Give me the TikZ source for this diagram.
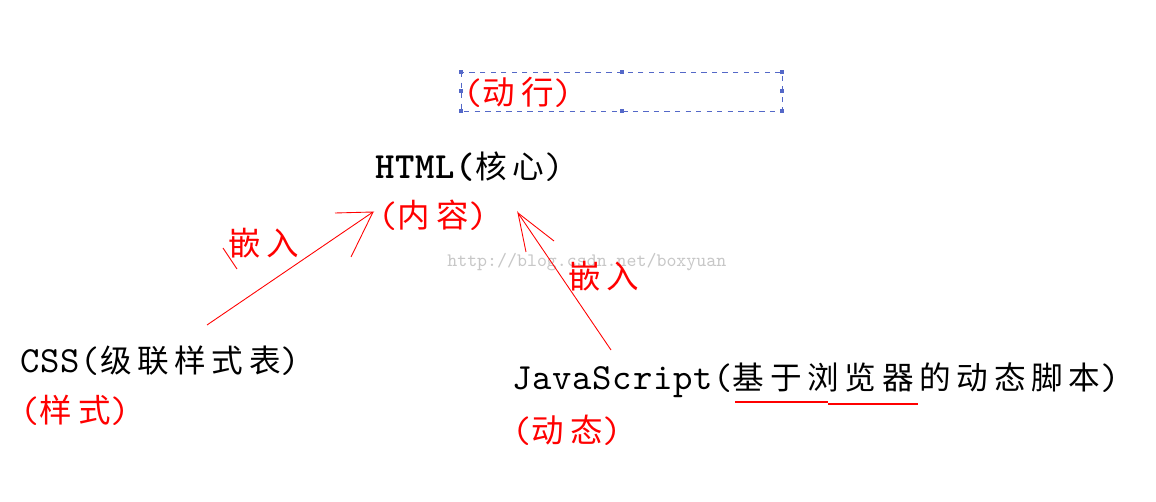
\documentclass[tikz,border=0pt]{standalone}
\usepackage{fontspec}
\usetikzlibrary{calc}
\newfontfamily\cjk{Noto Sans CJK SC}[LetterSpace=18]
\newfontfamily\lat{lmmono10-regular.otf}[LetterSpace=2]
\newfontfamily\latb{lmmonolt10-bold.otf}[LetterSpace=2]
\newfontfamily\wmfont{lmmono10-regular.otf}
\newcommand{\mono}[1]{{\fontsize{21}{22}\lat #1}}
\newcommand{\monob}[1]{{\fontsize{21}{22}\latb #1}}
\definecolor{boxblue}{RGB}{84,104,200}
\definecolor{penred}{RGB}{255,0,0}

\begin{document}
\begin{tikzpicture}[x=0.02cm,y=-0.02cm]
	\tikzset{txt/.style={anchor=west,inner sep=0pt,font=\fontsize{18}{20}\cjk},
		redtxt/.style={txt,text=penred,font=\fontsize{18.5}{20}\cjk},
		pen/.style={draw=penred,line width=0.5pt}}
	\useasboundingbox[fill=white] (0,0) rectangle (1156,502);
	\node (wm) at (447,262)[anchor=west,inner sep=0pt,text=black!22,font=\fontsize{10.8}{12}\wmfont] {http://blog.csdn.net/boxyuan};
	\draw[boxblue,dashed,line width=0.5pt] (461,72) rectangle (782,111);
	\foreach \p in {(461,72),(622,72),(782,72),(461,91),(782,91),(461,111),(622,111),(782,111)}
		\fill[boxblue] \p +(-2,-2) rectangle +(2,2);
	\node (dyn) at (463,92)[redtxt] {\mono{(}动行\mono{)}};
	\node (html) at (375,167)[txt] {\monob{HTML(}核心\mono{)}};
	\node (cont) at (378,215)[redtxt] {\mono{(}内容\mono{)}};
	\node (css) at (20,361)[txt] {\mono{CSS(}级联样式表\mono{)}};
	\node (sty) at (20,410)[redtxt] {\mono{(}样式\mono{)}};
	\node (js) at (512,380)[txt] {\mono{JavaScript(}基于浏览器的动态脚本\mono{)}};
	\node (dyn2) at (512,430)[redtxt] {\mono{(}动态\mono{)}};
	\node (emb1) at (228,243)[redtxt] {嵌入};
	\node (emb2) at (568,276)[redtxt] {嵌入};
	\coordinate (cssT) at (207,325);
	\coordinate (htmlA) at (373,212);
	\coordinate (jsT) at (611,350);
	\coordinate (htmlB) at (518,213);
	\draw[pen] (cssT) -- (htmlA) -- (335,213);
	\draw[pen] (htmlA) -- (351,257);
	\draw[pen] (223,248) -- (237,269);
	\draw[pen] (jsT) -- (htmlB) -- (526,252);
	\draw[pen] (htmlB) -- (554,241);
	\draw[pen,line width=0.7pt] (735,402) -- (828,402);
	\draw[pen,line width=0.7pt] (828,404) -- (918,404);
\end{tikzpicture}
\end{document}
